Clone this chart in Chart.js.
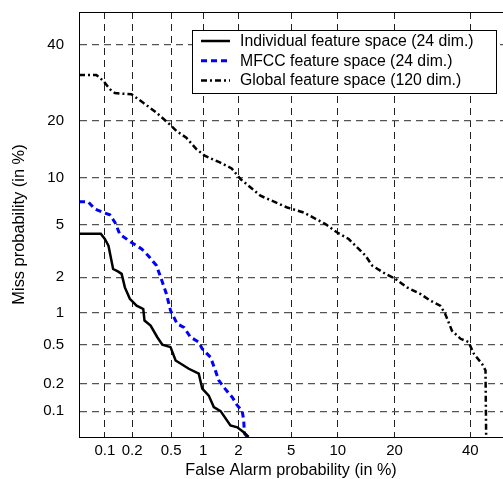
<!DOCTYPE html>
<html>
<head>
<meta charset="utf-8">
<title>DET curves</title>
<script src="https://cdn.jsdelivr.net/npm/chart.js@4.4.0/dist/chart.umd.min.js"></script>
<style>
    html, body { margin: 0; padding: 0; background: #fff; }
    #wrap { width: 503px; height: 479px; }
</style>
</head>
<body>
<div id="wrap"><canvas id="detChart" width="503" height="479"></canvas></div>
<script>
// values in %
const individualFa = [0.05, 0.09, 0.10, 0.11, 0.124, 0.14, 0.154, 0.167, 0.189, 0.223, 0.262, 0.27, 0.312, 0.365, 0.41, 0.494, 0.553, 0.738, 0.911, 0.98, 1.12, 1.24, 1.42, 1.72, 1.96, 2.21, 2.42];
const individualMiss = [4.3, 4.3, 3.94, 3.52, 2.33, 2.23, 2.13, 1.65, 1.32, 1.15, 1.075, 0.845, 0.76, 0.59, 0.50, 0.473, 0.349, 0.287, 0.255, 0.177, 0.149, 0.111, 0.10, 0.0685, 0.065, 0.057, 0.05];

const mfccFa = [0.05, 0.064, 0.077, 0.096, 0.114, 0.13, 0.147, 0.197, 0.252, 0.295, 0.358, 0.40, 0.45, 0.494, 0.573, 0.663, 0.766, 0.911, 0.98, 1.16, 1.28, 1.37, 1.51, 1.78, 1.96, 2.15, 2.21, 2.24, 2.36];
const mfccMiss = [7.09, 7.09, 6.35, 6.03, 5.82, 5.17, 4.27, 3.72, 3.33, 2.96, 2.48, 1.94, 1.45, 1.04, 0.787, 0.732, 0.59, 0.53, 0.455, 0.376, 0.276, 0.217, 0.184, 0.143, 0.116, 0.10, 0.078, 0.055, 0.05];

const globalFa = [0.05, 0.08, 0.096, 0.114, 0.13, 0.197, 0.262, 0.358, 0.485, 0.564, 0.70, 0.87, 1.03, 1.40, 1.76, 2.08, 2.99, 4.70, 6.10, 8.41, 9.91, 11.56, 12.88, 14.3, 15.5, 18.1, 20.2, 22.8, 26.1, 28.7, 31.3, 32.7, 34.6, 37.1, 39.5, 41.0, 43.6, 44.6, 44.8];
const globalMiss = [31.3, 31.3, 29.7, 27.5, 26.5, 26.2, 24.1, 21.8, 19.2, 17.85, 16.5, 14.4, 13.3, 12.2, 11.3, 9.8, 7.74, 6.51, 6.03, 5.03, 4.39, 3.94, 3.42, 2.96, 2.48, 2.13, 1.94, 1.65, 1.45, 1.27, 1.15, 0.97, 0.68, 0.57, 0.53, 0.41, 0.32, 0.276, 0.05];

const seriesNames = ["Individual feature space (24 dim.)", "MFCC feature space (24 dim.)", "Global feature space (120 dim.)"];
const tickValues = [0.1, 0.2, 0.5, 1, 2, 5, 10, 20, 40];
const tickLabels = ["0.1", "0.2", "0.5", "1", "2", "5", "10", "20", "40"];
const axisMin = 0.05;
const axisMax = 50;

// inverse of the normal CDF (Acklam), DET plots use normal deviate axes
const probit = (p) => {
    const a = [-3.969683028665376e+01, 2.209460984245205e+02, -2.759285104469687e+02, 1.383577518672690e+02, -3.066479806614716e+01, 2.506628277459239e+00];
    const b = [-5.447609879822406e+01, 1.615858368580409e+02, -1.556989798598866e+02, 6.680131188771972e+01, -1.328068155288572e+01];
    const c = [-7.784894002430293e-03, -3.223964580411365e-01, -2.400758277161838e+00, -2.549732539343734e+00, 4.374664141464968e+00, 2.938163982698783e+00];
    const d = [7.784695709041462e-03, 3.224671290700398e-01, 2.445134137142996e+00, 3.754408361464536e+00];
    const plow = 0.02425;
    if (p < plow) {
        const q = Math.sqrt(-2 * Math.log(p));
        return (((((c[0] * q + c[1]) * q + c[2]) * q + c[3]) * q + c[4]) * q + c[5]) /
            ((((d[0] * q + d[1]) * q + d[2]) * q + d[3]) * q + 1);
    }
    if (p <= 1 - plow) {
        const q = p - 0.5;
        const r = q * q;
        return (((((a[0] * r + a[1]) * r + a[2]) * r + a[3]) * r + a[4]) * r + a[5]) * q /
            (((((b[0] * r + b[1]) * r + b[2]) * r + b[3]) * r + b[4]) * r + 1);
    }
    const q = Math.sqrt(-2 * Math.log(1 - p));
    return -(((((c[0] * q + c[1]) * q + c[2]) * q + c[3]) * q + c[4]) * q + c[5]) /
        ((((d[0] * q + d[1]) * q + d[2]) * q + d[3]) * q + 1);
};

const toPoints = (fa, miss) => fa.map((v, i) => ({ x: probit(v / 100), y: probit(miss[i] / 100) }));

const FONT = "Arial, 'Liberation Sans', sans-serif";

const setProbitTicks = (scale) => {
    scale.ticks = tickValues.map((v) => ({ value: probit(v / 100) }));
};

// no extra room for the end labels, the plot box is fixed
const clearPadding = (scale) => {
    scale.paddingTop = 0;
    scale.paddingBottom = 0;
    scale.paddingLeft = 0;
    scale.paddingRight = 0;
};

// box around the plot area
const framePlugin = {
    id: "frame",
    afterDraw(chart) {
        const { ctx, chartArea: ca } = chart;
        ctx.save();
        ctx.strokeStyle = "#000";
        ctx.lineWidth = 1;
        ctx.strokeRect(ca.left + 0.5, ca.top + 0.5, ca.right - ca.left, ca.bottom - ca.top);
        ctx.restore();
    },
};

// legend box in the upper right of the plot
const legendBoxPlugin = {
    id: "legendBox",
    afterDraw(chart) {
        const { ctx, chartArea: ca } = chart;
        const left = ca.left + 113;
        const top = ca.top + 18;
        const w = 304;
        const h = 63;
        ctx.save();
        ctx.fillStyle = "#fff";
        ctx.fillRect(left, top, w, h);
        ctx.strokeStyle = "#000";
        ctx.lineWidth = 1;
        ctx.strokeRect(left + 0.5, top + 0.5, w, h);
        ctx.font = "15.8px " + FONT;
        ctx.textBaseline = "middle";
        chart.data.datasets.forEach((ds, i) => {
            const y = top + 11 + i * 19.7;
            ctx.beginPath();
            ctx.strokeStyle = ds.borderColor;
            ctx.lineWidth = ds.borderWidth;
            ctx.setLineDash(ds.borderDash || []);
            ctx.moveTo(left + 9, y);
            ctx.lineTo(left + 38, y);
            ctx.stroke();
            ctx.setLineDash([]);
            ctx.fillStyle = "#000";
            ctx.fillText(ds.label, left + 48, y + 0.5);
        });
        ctx.restore();
    },
};

const ctx = document.getElementById("detChart").getContext("2d");
const detChart = new Chart(ctx, {
    type: "line",
    data: {
        datasets: [
            {
                label: seriesNames[0],
                data: toPoints(individualFa, individualMiss),
                borderColor: "#000",
                borderWidth: 2.5,
                pointRadius: 0,
                tension: 0,
            },
            {
                label: seriesNames[1],
                data: toPoints(mfccFa, mfccMiss),
                borderColor: "#0000ff",
                borderWidth: 3,
                borderDash: [6, 4],
                pointRadius: 0,
                tension: 0,
            },
            {
                label: seriesNames[2],
                data: toPoints(globalFa, globalMiss),
                borderColor: "#000",
                borderWidth: 2.5,
                borderDash: [6, 3, 2, 3],
                pointRadius: 0,
                tension: 0,
            },
        ],
    },
    options: {
        responsive: false,
        animation: false,
        devicePixelRatio: 1,
        layout: { padding: { top: 12, left: 0, right: 0, bottom: 0 } },
        plugins: {
            legend: { display: false },
            tooltip: { enabled: false },
        },
        scales: {
            x: {
                type: "linear",
                min: probit(axisMin / 100),
                max: probit(axisMax / 100),
                afterBuildTicks: setProbitTicks,
                afterFit: (scale) => { scale.height = 42; clearPadding(scale); },
                ticks: {
                    callback: (value, index) => tickLabels[index],
                    font: { family: FONT, size: 15 },
                    color: "#000",
                    padding: 5,
                    maxRotation: 0,
                    autoSkip: false,
                },
                grid: { color: "#222", lineWidth: 1, drawTicks: false },
                border: { display: true, color: "#000", width: 1, dash: [7, 5] },
                title: {
                    display: true,
                    text: "False Alarm probability (in %)",
                    font: { family: FONT, size: 16.2, lineHeight: 1.1 },
                    color: "#000",
                    padding: { top: 0, bottom: 0 },
                },
            },
            y: {
                type: "linear",
                min: probit(axisMin / 100),
                max: probit(axisMax / 100),
                afterBuildTicks: setProbitTicks,
                afterFit: (scale) => { scale.width = 79; clearPadding(scale); },
                ticks: {
                    callback: (value, index) => tickLabels[index],
                    font: { family: FONT, size: 15 },
                    color: "#000",
                    padding: 15,
                    autoSkip: false,
                },
                grid: { color: "#555", lineWidth: 1.2, drawTicks: false },
                border: { display: true, color: "#000", width: 1, dash: [7, 5] },
                title: {
                    display: true,
                    text: "Miss probability (in %)",
                    font: { family: FONT, size: 16.4, lineHeight: 1.2 },
                    color: "#000",
                    padding: { top: 9.2, bottom: 0 },
                },
            },
        },
    },
    plugins: [framePlugin, legendBoxPlugin],
});
</script>
</body>
</html>
